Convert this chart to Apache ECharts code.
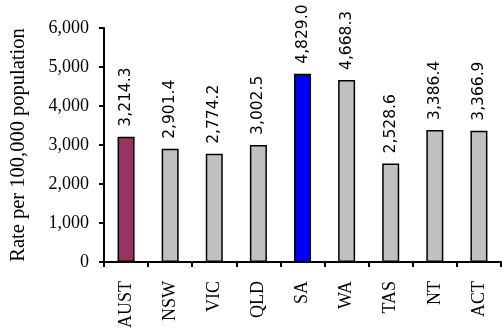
<!DOCTYPE html>
<html>
<head>
<meta charset="utf-8">
<script src="https://cdn.jsdelivr.net/npm/echarts@6/dist/echarts.min.js"></script>
<style>html,body{margin:0;padding:0;background:#fff}#c{width:503px;height:331px}</style>
</head>
<body>
<div id="c"></div>
<script>
// Rate per 100,000 population by jurisdiction
const categories = ['AUST', 'NSW', 'VIC', 'QLD', 'SA', 'WA', 'TAS', 'NT', 'ACT'];
const rates = [3214.3, 2901.4, 2774.2, 3002.5, 4829.0, 4668.3, 2528.6, 3386.4, 3366.9];
const barColors = ['#993366', '#C0C0C0', '#C0C0C0', '#C0C0C0', '#0000FF', '#C0C0C0', '#C0C0C0', '#C0C0C0', '#C0C0C0'];
const yTicks = [0, 1000, 2000, 3000, 4000, 5000, 6000];

const fmtComma = v => v.toLocaleString('en-US');
const fmtValue = v => v.toLocaleString('en-US', { minimumFractionDigits: 1, maximumFractionDigits: 1 });

const chart = echarts.init(document.getElementById('c'), null, { renderer: 'canvas' });
chart.setOption({
  animation: false,
  grid: { left: 97, right: 2, top: 28, bottom: 68, containLabel: false },
  xAxis: {
    type: 'category',
    data: categories,
    axisLine: { lineStyle: { color: '#000', width: 2 } },
    axisTick: { show: true, alignWithLabel: false, length: 5, lineStyle: { color: '#000', width: 2 } },
    axisLabel: {
      rotate: 90, margin: 19, color: '#000',
      fontFamily: 'Liberation Serif', fontSize: 18
    }
  },
  yAxis: {
    type: 'value',
    min: yTicks[0], max: yTicks[yTicks.length - 1], interval: 1000,
    name: 'Rate per 100,000 population',
    nameLocation: 'middle', nameGap: 75, nameRotate: 90,
    nameTextStyle: { fontFamily: 'Liberation Serif', fontSize: 20.5, color: '#000' },
    splitLine: { show: false },
    axisLine: { show: true, lineStyle: { color: '#000', width: 2 } },
    axisTick: { show: true, length: 5, lineStyle: { color: '#000', width: 2 } },
    axisLabel: {
      color: '#000', margin: 15,
      fontFamily: 'Liberation Serif', fontSize: 18,
      formatter: v => fmtComma(v)
    }
  },
  series: [{
    type: 'bar',
    barWidth: 17,
    data: rates.map((v, i) => ({ value: v, itemStyle: { color: barColors[i] } })),
    itemStyle: { borderColor: '#000', borderWidth: 1.5 },
    label: {
      show: true, position: 'top', rotate: 90, distance: 10,
      align: 'left', verticalAlign: 'middle',
      color: '#000', fontFamily: 'DejaVu Sans', fontSize: 15.5,
      formatter: p => fmtValue(p.value)
    }
  }]
});
</script>
</body>
</html>
